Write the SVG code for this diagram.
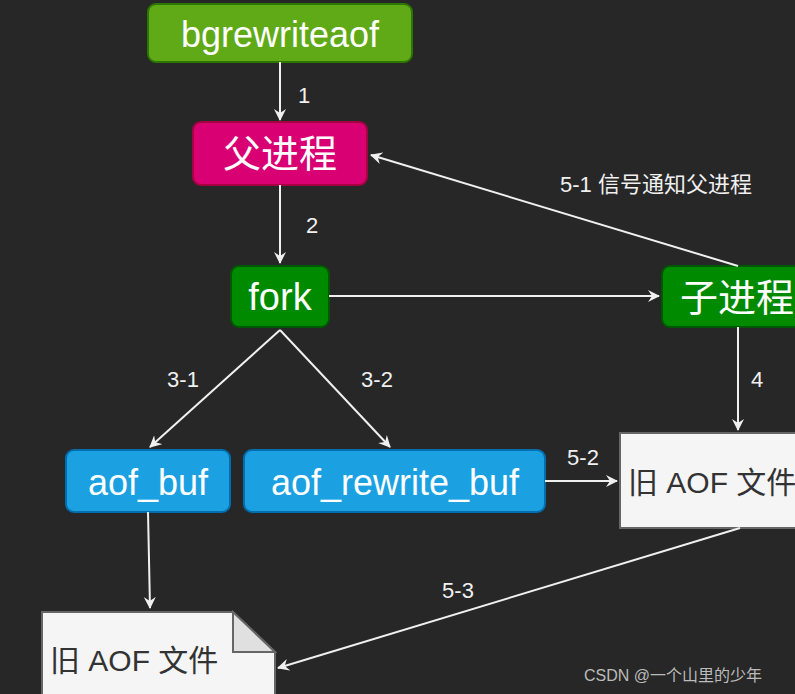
<svg xmlns="http://www.w3.org/2000/svg" width="795" height="694" viewBox="0 0 795 694">
<style>
.t{font-family:"Liberation Sans","Noto Sans CJK SC",sans-serif;fill:#fff;text-anchor:middle;dominant-baseline:central}
.l{font-family:"Liberation Sans","Noto Sans CJK SC",sans-serif;fill:#f0f0f0;font-size:22px;text-anchor:middle;dominant-baseline:central}
.d{font-family:"Liberation Sans","Noto Sans CJK SC",sans-serif;fill:#333;font-size:30px;dominant-baseline:central}
.c{stroke:#f0f0f0;stroke-width:2;fill:none;marker-end:url(#a)}
</style>
<defs><marker id="a" viewBox="0 0 12 12" refX="11" refY="6" markerWidth="12" markerHeight="12" markerUnits="userSpaceOnUse" orient="auto"><path d="M0,0 L12,6 L0,12 L4,6 Z" fill="#f0f0f0"/></marker></defs>
<rect width="795" height="694" fill="#272727"/>
<g id="n1"><rect x="148" y="4" width="264" height="58" rx="8" fill="#60a917" stroke="#2d7600" stroke-width="2"/><text class="t" x="280" y="34" font-size="36">bgrewriteaof</text></g>
<g id="n2"><rect x="193" y="122" width="174" height="63" rx="8" fill="#d80073" stroke="#a50040" stroke-width="2"/><text class="t" x="280" y="154" font-size="38">父进程</text></g>
<g id="n3"><rect x="231" y="266" width="98" height="61" rx="8" fill="#008a00" stroke="#005700" stroke-width="2"/><text class="t" x="280" y="297" font-size="38">fork</text></g>
<g id="n4"><rect x="662" y="266" width="150" height="61" rx="8" fill="#008a00" stroke="#005700" stroke-width="2"/><text class="t" x="737" y="298" font-size="38">子进程</text></g>
<g id="n5"><rect x="66" y="450" width="164" height="62" rx="8" fill="#1ba1e2" stroke="#006eaf" stroke-width="2"/><text class="t" x="148" y="482" font-size="36">aof_buf</text></g>
<g id="n6"><rect x="244" y="450" width="301" height="62" rx="8" fill="#1ba1e2" stroke="#006eaf" stroke-width="2"/><text class="t" x="395" y="482" font-size="36">aof_rewrite_buf</text></g>
<g id="n7"><rect x="620" y="433" width="190" height="95" fill="#f5f5f5" stroke="#666" stroke-width="2"/><text class="d" x="628" y="482">旧 AOF 文件</text></g>
<g id="n8"><path d="M42,612 H233 L275,652 V700 H42 Z" fill="#f5f5f5" stroke="#666" stroke-width="2"/><path d="M233,612 V652 H275 Z" fill="#e0e0e0" stroke="#666" stroke-width="2"/><text class="d" x="50" y="660">旧 AOF 文件</text></g>
<g id="edges">
<line class="c" x1="280" y1="62" x2="280" y2="120"/>
<line class="c" x1="280" y1="185" x2="280" y2="263"/>
<line class="c" x1="329" y1="296" x2="659" y2="296"/>
<line class="c" x1="280" y1="330" x2="150" y2="447"/>
<line class="c" x1="280" y1="330" x2="390" y2="447"/>
<line class="c" x1="738" y1="327" x2="738" y2="430"/>
<line class="c" x1="545" y1="481" x2="617" y2="481"/>
<line class="c" x1="148" y1="512" x2="150" y2="608"/>
<line class="c" x1="740" y1="528" x2="278" y2="668"/>
<line class="c" x1="738" y1="266" x2="371" y2="155"/>
<text class="l" x="304" y="95">1</text>
<text class="l" x="312" y="225">2</text>
<text class="l" x="183" y="379">3-1</text>
<text class="l" x="377" y="379">3-2</text>
<text class="l" x="757" y="379">4</text>
<text class="l" x="583" y="457">5-2</text>
<text class="l" x="458" y="590">5-3</text>
<text class="l" x="656" y="184">5-1 信号通知父进程</text>
</g>
<text x="673" y="675" font-family="Liberation Sans,Noto Sans CJK SC,sans-serif" font-size="16" fill="#bbb" text-anchor="middle" dominant-baseline="central">CSDN @一个山里的少年</text>
</svg>
